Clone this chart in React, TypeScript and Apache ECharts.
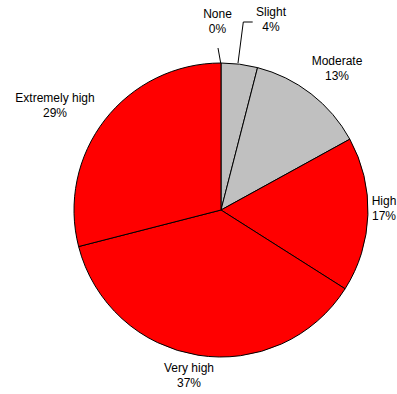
import React, { useEffect, useRef } from "react";
import * as echarts from "echarts";

// Share of respondents by rating (percent)
const categories = ["None", "Slight", "Moderate", "High", "Very high", "Extremely high"];
const shares = [0, 4, 13, 17, 37, 29];

const GRAY = "#c0c0c0";
const RED = "#ff0000";
const sliceColors = [GRAY, GRAY, GRAY, RED, RED, RED];

// Label anchor points (centre of the two-line label block) and leader lines
const labelSpots: { x: number; y: number; line?: number[][] }[] = [
  { x: 217.5, y: 21.5, line: [[220.7, 63], [218, 48], [218, 48]] },
  { x: 271, y: 19.5, line: [[238, 63], [243.3, 22], [252.7, 22]] },
  { x: 337, y: 68 },
  { x: 384, y: 208 },
  { x: 189, y: 375 },
  { x: 55, y: 105 },
];

export default function App() {
  const ref = useRef<HTMLDivElement>(null);

  useEffect(() => {
    if (!ref.current) return;
    const chart = echarts.init(ref.current, null, { renderer: "svg" });
    chart.setOption({
      animation: false,
      backgroundColor: "#ffffff",
      series: [
        {
          type: "pie",
          center: [221, 210],
          radius: 147,
          startAngle: 90,
          clockwise: true,
          avoidLabelOverlap: false,
          stillShowZeroSum: true,
          itemStyle: { borderColor: "#000000", borderWidth: 1 },
          emphasis: { disabled: true },
          label: {
            show: true,
            position: "outside",
            formatter: "{b}\n{c}%",
            fontFamily: "Liberation Sans, Arial, sans-serif",
            fontSize: 12,
            lineHeight: 15,
            color: "#000000",
            align: "center",
          },
          labelLine: {
            show: false,
            lineStyle: { color: "#000000", width: 1 },
          },
          labelLayout: (params: any) => {
            const spot = labelSpots[params.dataIndex];
            const out: any = {
              x: spot.x,
              y: spot.y,
              align: "center",
              verticalAlign: "middle",
            };
            if (spot.line) out.labelLinePoints = spot.line;
            return out;
          },
          data: categories.map((name, i) => ({
            name,
            value: shares[i],
            itemStyle: { color: sliceColors[i] },
            labelLine: { show: !!labelSpots[i].line },
          })),
        },
      ],
    });
    return () => chart.dispose();
  }, []);

  return (
    <div
      ref={ref}
      style={{ position: "fixed", left: 0, top: 0, width: 397, height: 394 }}
    />
  );
}
